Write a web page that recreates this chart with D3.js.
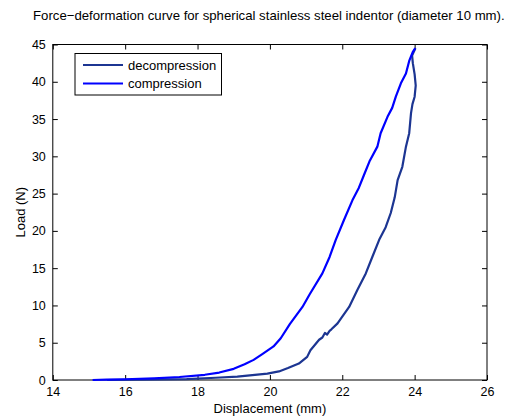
<!DOCTYPE html>
<html>
<head>
<meta charset="utf-8">
<script src="https://cdn.jsdelivr.net/npm/d3@7"></script>
<style>
  body { margin: 0; background: #fff; }
  svg { display: block; font-family: "Liberation Sans", Arial, sans-serif; }
</style>
</head>
<body>
<svg class="chart" width="508" height="416"></svg>
<script>
// compression: loading curve (x in mm, load in N)
const compX = [15.1, 15.5, 16.0, 16.8, 17.5, 18.2, 18.6, 19.0, 19.3, 19.55, 19.8, 20.1, 20.3, 20.55, 20.9, 21.1, 21.45, 21.65, 21.82, 22.05, 22.28, 22.46, 22.6, 22.75, 22.97, 23.06, 23.25, 23.38, 23.48, 23.62, 23.76, 23.85, 23.95, 24.02];
const compY = [0, 0.05, 0.1, 0.23, 0.4, 0.7, 1.0, 1.5, 2.1, 2.7, 3.5, 4.5, 5.6, 7.5, 9.8, 11.5, 14.3, 16.5, 18.8, 21.5, 24.1, 25.8, 27.5, 29.3, 31.3, 33.1, 35.3, 36.5, 38.0, 39.8, 41.1, 42.8, 44.0, 44.5];

// decompression: unloading curve, from the peak back down
const decX = [24.02, 23.93, 23.95, 24.0, 24.03, 24.0, 23.94, 23.9, 23.85, 23.76, 23.66, 23.53, 23.45, 23.34, 23.2, 23.02, 22.83, 22.65, 22.42, 22.19, 22.0, 21.87, 21.7, 21.65, 21.58, 21.52, 21.45, 21.36, 21.12, 21.03, 20.8, 20.5, 20.25, 19.93, 19.1, 18.5, 17.7, 16.5, 15.5];
const decY = [44.5, 43.5, 42.5, 41.0, 39.5, 38.0, 37.0, 35.8, 33.1, 31.3, 28.6, 26.8, 24.5, 22.4, 20.5, 18.8, 16.5, 14.3, 12.1, 9.8, 8.5, 7.6, 6.8, 6.6, 6.1, 6.3, 5.7, 5.4, 4.0, 3.1, 2.2, 1.6, 1.15, 0.85, 0.45, 0.3, 0.13, 0.05, 0.0];

const xTicks = [14, 16, 18, 20, 22, 24, 26];
const yTicks = [0, 5, 10, 15, 20, 25, 30, 35, 40, 45];

const seriesNames = ["decompression", "compression"];
const seriesColors = ["#1c3592", "#0000ff"];

const svg = d3.select(".chart");

const plotLeft = 52.8, plotRight = 487, plotTop = 44.5, plotBottom = 380;

const x = d3.scaleLinear().domain([14, 26]).range([plotLeft, plotRight]);
const y = d3.scaleLinear().domain([0, 45]).range([plotBottom, plotTop]);

// title
svg.append("text")
  .attr("x", 33)
  .attr("y", 19.5)
  .attr("font-size", 13.2)
  .attr("fill", "#000")
  .text("Force\u2212deformation curve for spherical stainless steel indentor (diameter 10 mm).");

// axes (ticks inside, MATLAB style)
const xAxis = svg.append("g")
  .attr("transform", `translate(0,${plotBottom})`)
  .call(d3.axisBottom(x).tickValues(xTicks).tickSize(-5).tickPadding(7));
const xTop = svg.append("g")
  .attr("transform", `translate(0,${plotTop})`)
  .call(d3.axisTop(x).tickValues(xTicks).tickSize(-5).tickFormat(""));
const yAxis = svg.append("g")
  .attr("transform", `translate(${plotLeft},0)`)
  .call(d3.axisLeft(y).tickValues(yTicks).tickSize(-5).tickPadding(7));
const yRight = svg.append("g")
  .attr("transform", `translate(${plotRight},0)`)
  .call(d3.axisRight(y).tickValues(yTicks).tickSize(-5).tickFormat(""));

[xAxis, xTop, yAxis, yRight].forEach(g => {
  g.select(".domain").remove();
  g.selectAll("line").attr("stroke", "#000");
  g.selectAll("text").attr("font-size", 12.5).attr("fill", "#000")
    .attr("font-family", "Liberation Sans, Arial, sans-serif");
});

// box
svg.append("rect")
  .attr("x", plotLeft).attr("y", plotTop)
  .attr("width", plotRight - plotLeft).attr("height", plotBottom - plotTop)
  .attr("fill", "none").attr("stroke", "#000").attr("stroke-width", 1);

// axis labels
svg.append("text")
  .attr("x", (plotLeft + plotRight) / 2)
  .attr("y", 413)
  .attr("text-anchor", "middle")
  .attr("font-size", 13)
  .text("Displacement (mm)");

svg.append("text")
  .attr("transform", `translate(25,${(plotTop + plotBottom) / 2}) rotate(-90)`)
  .attr("text-anchor", "middle")
  .attr("font-size", 13)
  .text("Load (N)");

// curves
const line = d3.line().x(d => x(d[0])).y(d => y(d[1]));
const plot = svg.append("g");

plot.append("path")
  .attr("d", line(decX.map((v, i) => [v, decY[i]])))
  .attr("fill", "none")
  .attr("stroke", seriesColors[0])
  .attr("stroke-width", 2.2)
  .attr("stroke-linejoin", "round");

plot.append("path")
  .attr("d", line(compX.map((v, i) => [v, compY[i]])))
  .attr("fill", "none")
  .attr("stroke", seriesColors[1])
  .attr("stroke-width", 2.2)
  .attr("stroke-linejoin", "round");

// legend
const legend = svg.append("g").attr("transform", "translate(75,53.5)");
legend.append("rect")
  .attr("width", 146.5).attr("height", 41.5)
  .attr("fill", "#fff").attr("stroke", "#000");
seriesNames.forEach((name, i) => {
  const ly = 11.5 + i * 18.5;
  legend.append("line")
    .attr("x1", 8).attr("x2", 48)
    .attr("y1", ly).attr("y2", ly)
    .attr("stroke", seriesColors[i]).attr("stroke-width", 2);
  legend.append("text")
    .attr("x", 53).attr("y", ly + 4.5)
    .attr("font-size", 13)
    .text(name);
});
</script>
</body>
</html>
